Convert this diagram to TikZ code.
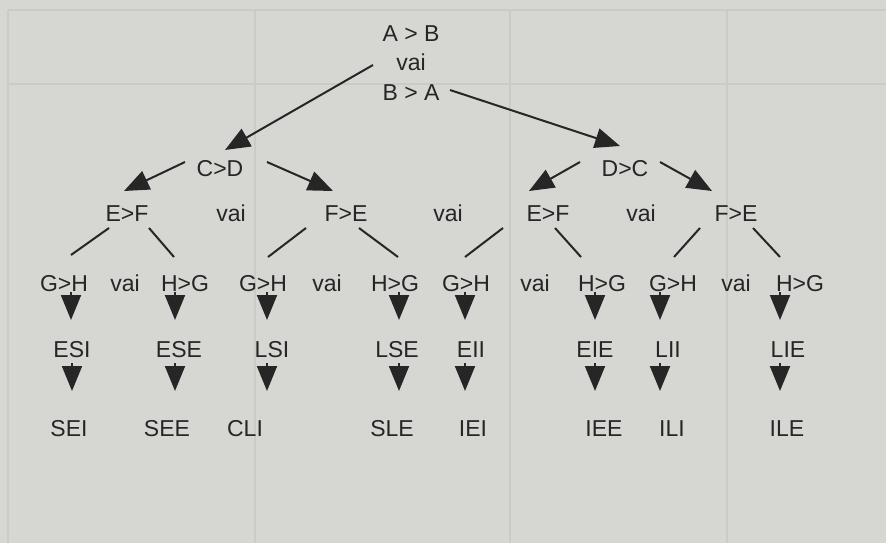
\documentclass[tikz,border=0pt]{standalone}
\usepackage{fontspec}
\setmainfont{Liberation Sans}
\usetikzlibrary{arrows.meta}
\definecolor{paper}{RGB}{214,214,210}
\definecolor{ink}{RGB}{38,38,38}
\definecolor{faint}{RGB}{202,202,198}
\tikzset{
  lbl/.style={font=\fontsize{23}{28}\selectfont, text=ink, inner sep=0pt, outer sep=0pt, text height=16.5pt, text depth=0pt},
  conn/.style={draw=ink, line width=2pt},
  arr/.style={conn, -{Triangle[length=25pt,width=20pt]}},
  tablerule/.style={draw=faint, line width=1.2pt}
}
\begin{document}
\begin{tikzpicture}[x=1pt,y=-1pt]
\fill[paper] (0,0) rectangle (886,543);
\useasboundingbox (0,0) rectangle (886,543);
% faint table lines of the page behind
\draw[tablerule] (8,10) -- (886,10);
\draw[tablerule] (8,84) -- (886,84);
\draw[tablerule] (8,10) -- (8,543);
\draw[tablerule] (255,10) -- (255,543);
\draw[tablerule] (510,10) -- (510,543);
\draw[tablerule] (727,10) -- (727,543);
% top
\node[lbl] (ab) at (411,33) {A > B};
\node[lbl] (v0) at (411,62) {vai};
\node[lbl] (ba) at (411,92) {B > A};
% level 1
\node[lbl] (cd) at (220,168) {C>D};
\node[lbl] (dc) at (625,168) {D>C};
% level 2
\node[lbl] (ef1) at (127,213) {E>F};
\node[lbl] (v1)  at (231,213) {vai};
\node[lbl] (fe1) at (346,213) {F>E};
\node[lbl] (v2)  at (448,213) {vai};
\node[lbl] (ef2) at (548,213) {E>F};
\node[lbl] (v3)  at (641,213) {vai};
\node[lbl] (fe2) at (736,213) {F>E};
% level 3
\node[lbl] (gh1) at (64,283) {G>H};
\node[lbl] (v4)  at (125,283) {vai};
\node[lbl] (hg1) at (185,283) {H>G};
\node[lbl] (gh2) at (263,283) {G>H};
\node[lbl] (v5)  at (327,283) {vai};
\node[lbl] (hg2) at (395,283) {H>G};
\node[lbl] (gh3) at (466,283) {G>H};
\node[lbl] (v6)  at (535,283) {vai};
\node[lbl] (hg3) at (602,283) {H>G};
\node[lbl] (gh4) at (673,283) {G>H};
\node[lbl] (v7)  at (736,283) {vai};
\node[lbl] (hg4) at (800,283) {H>G};
% level 4
\node[lbl] (esi) at (72,349) {ESI};
\node[lbl] (ese) at (179,349) {ESE};
\node[lbl] (lsi) at (272,349) {LSI};
\node[lbl] (lse) at (397,349) {LSE};
\node[lbl] (eii) at (471,349) {EII};
\node[lbl] (eie) at (595,349) {EIE};
\node[lbl] (lii) at (668,349) {LII};
\node[lbl] (lie) at (788,349) {LIE};
% level 5
\node[lbl] (sei) at (69,428) {SEI};
\node[lbl] (see) at (167,428) {SEE};
\node[lbl] (cli) at (245,428) {CLI};
\node[lbl] (sle) at (392,428) {SLE};
\node[lbl] (iei) at (473,428) {IEI};
\node[lbl] (iee) at (604,428) {IEE};
\node[lbl] (ili) at (672,428) {ILI};
\node[lbl] (ile) at (787,428) {ILE};
% top arrows
\draw[arr] ([shift={(-38,3)}]v0.center) -- ([shift={(5,-18)}]cd.center);
\draw[arr] ([shift={(39,-2)}]ba.center) -- ([shift={(-5,-22)}]dc.center);
% level 1 -> 2
\draw[arr] ([shift={(-35,-6)}]cd.center) -- ([shift={(-3,-22)}]ef1.center);
\draw[arr] ([shift={(47,-6)}]cd.center) -- ([shift={(-13,-22)}]fe1.center);
\draw[arr] ([shift={(-45,-6)}]dc.center) -- ([shift={(-19,-22)}]ef2.center);
\draw[arr] ([shift={(35,-6)}]dc.center) -- ([shift={(-24,-22)}]fe2.center);
% level 2 -> 3
\draw[conn] ([shift={(-18,15)}]ef1.center) -- ([shift={(7,-28)}]gh1.center);
\draw[conn] ([shift={(22,15)}]ef1.center) -- ([shift={(-11,-26)}]hg1.center);
\draw[conn] ([shift={(-40,15)}]fe1.center) -- ([shift={(5,-26)}]gh2.center);
\draw[conn] ([shift={(13,15)}]fe1.center) -- ([shift={(3,-26)}]hg2.center);
\draw[conn] ([shift={(-45,15)}]ef2.center) -- ([shift={(-1,-26)}]gh3.center);
\draw[conn] ([shift={(7,15)}]ef2.center) -- ([shift={(-21,-26)}]hg3.center);
\draw[conn] ([shift={(-36,15)}]fe2.center) -- ([shift={(1,-26)}]gh4.center);
\draw[conn] ([shift={(17,15)}]fe2.center) -- ([shift={(-20,-26)}]hg4.center);
% level 3 -> 4
\draw[arr] ([shift={(7,9)}]gh1.center) -- ([shift={(-1,-29)}]esi.center);
\draw[arr] ([shift={(-10,9)}]hg1.center) -- ([shift={(-4,-29)}]ese.center);
\draw[arr] ([shift={(4,9)}]gh2.center) -- ([shift={(-5,-29)}]lsi.center);
\draw[arr] ([shift={(4,9)}]hg2.center) -- ([shift={(2,-29)}]lse.center);
\draw[arr] ([shift={(-1,9)}]gh3.center) -- ([shift={(-6,-29)}]eii.center);
\draw[arr] ([shift={(-7,9)}]hg3.center) -- ([shift={(0,-29)}]eie.center);
\draw[arr] ([shift={(-13,9)}]gh4.center) -- ([shift={(-8,-29)}]lii.center);
\draw[arr] ([shift={(-20,9)}]hg4.center) -- ([shift={(-8,-29)}]lie.center);
% level 4 -> 5
\draw[arr] ([shift={(0,14)}]esi.center) -- ([shift={(3,-37)}]sei.center);
\draw[arr] ([shift={(-4,14)}]ese.center) -- ([shift={(8,-37)}]see.center);
\draw[arr] ([shift={(-5,14)}]lsi.center) -- ([shift={(22,-37)}]cli.center);
\draw[arr] ([shift={(2,14)}]lse.center) -- ([shift={(7,-37)}]sle.center);
\draw[arr] ([shift={(-6,14)}]eii.center) -- ([shift={(-8,-37)}]iei.center);
\draw[arr] ([shift={(0,14)}]eie.center) -- ([shift={(-9,-37)}]iee.center);
\draw[arr] ([shift={(-8,14)}]lii.center) -- ([shift={(-12,-37)}]ili.center);
\draw[arr] ([shift={(-8,14)}]lie.center) -- ([shift={(-7,-37)}]ile.center);
\end{tikzpicture}
\end{document}
